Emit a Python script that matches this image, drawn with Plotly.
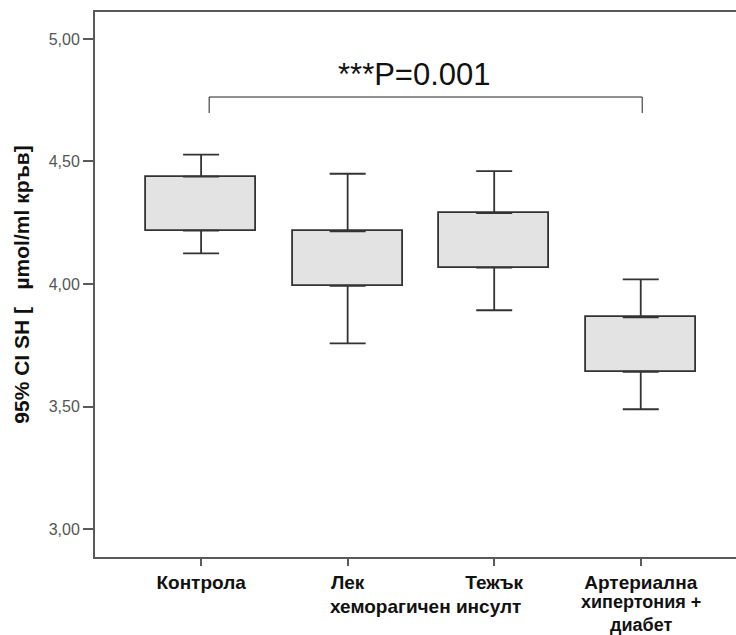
import plotly.graph_objects as go

# Groups and their summary values (µmol/ml кръв)
categories = ["Контрола", "Лек", "Тежък", "Артериална"]
box_low = [4.218, 3.992, 4.067, 3.642]
box_high = [4.438, 4.215, 4.289, 3.864]
ci_low = [4.125, 3.758, 3.893, 3.489]
ci_high = [4.528, 4.450, 4.461, 4.019]

y_ticks = [3.0, 3.5, 4.0, 4.5, 5.0]
y_tick_text = ["3,00", "3,50", "4,00", "4,50", "5,00"]

p_label = "***P=0.001"
bracket_from, bracket_to = 0.055, 3.01
bracket_top, bracket_bottom = 4.763, 4.698

FONT = "Liberation Sans, Arial"
line_col = "#333333"
fill_col = "#e3e3e3"
xs = list(range(len(categories)))

fig = go.Figure()

# boxes
fig.add_trace(go.Bar(
    x=xs,
    y=[h - l for h, l in zip(box_high, box_low)],
    base=box_low,
    width=0.75,
    marker=dict(color=fill_col, line=dict(color=line_col, width=1.8)),
    showlegend=False, hoverinfo="skip",
))

# upper whiskers
fig.add_trace(go.Scatter(
    x=xs, y=box_high, mode="markers",
    marker=dict(size=1, opacity=0),
    error_y=dict(type="data", symmetric=False,
                 array=[h - b for h, b in zip(ci_high, box_high)],
                 arrayminus=[0] * len(xs),
                 width=18, thickness=1.8, color=line_col),
    showlegend=False, hoverinfo="skip",
))

# lower whiskers
fig.add_trace(go.Scatter(
    x=xs, y=box_low, mode="markers",
    marker=dict(size=1, opacity=0),
    error_y=dict(type="data", symmetric=False,
                 array=[0] * len(xs),
                 arrayminus=[b - l for b, l in zip(box_low, ci_low)],
                 width=18, thickness=1.8, color=line_col),
    showlegend=False, hoverinfo="skip",
))

# significance bracket
fig.add_shape(type="path",
              path=f"M {bracket_from},{bracket_bottom} L {bracket_from},{bracket_top} "
                   f"L {bracket_to},{bracket_top} L {bracket_to},{bracket_bottom}",
              xref="x", yref="y", line=dict(color="#222222", width=1))
fig.add_annotation(x=1.454, y=4.853, xref="x", yref="y", text=p_label,
                   showarrow=False,
                   font=dict(family=FONT, size=31, color="#111111"))

# continuation lines of the category labels
extra_lines = [
    (1.53, -0.0917, "хеморагичен инсулт", 19),
    (3.0, -0.1028, "хипертония +<br>диабет", 18),
]
for xv, yv, txt, sz in extra_lines:
    fig.add_annotation(x=xv, y=yv, xref="x", yref="paper",
                       text=f"<b>{txt}</b>", showarrow=False, yanchor="middle",
                       borderpad=0,
                       font=dict(family=FONT, size=sz, color="#111111"))

fig.update_layout(
    width=736, height=635,
    margin=dict(l=95, r=0, t=12, b=78),
    paper_bgcolor="white", plot_bgcolor="white",
    bargap=0,
    xaxis=dict(
        range=[-0.724, 3.65],
        tickmode="array", tickvals=xs,
        ticktext=[f"<b>{c}</b>" for c in categories],
        showline=True, mirror=True, linecolor="#5a5a5a", linewidth=2,
        ticks="outside", ticklen=7, tickcolor="#5a5a5a", tickwidth=1.5,
        showgrid=False, zeroline=False,
        tickfont=dict(family=FONT, size=19, color="#111111"),
    ),
    yaxis=dict(
        range=[2.886, 5.110],
        tickmode="array", tickvals=y_ticks, ticktext=y_tick_text,
        showline=True, linecolor="#5a5a5a", linewidth=2,
        ticks="outside", ticklen=10, tickcolor="#5a5a5a", tickwidth=1.5,
        showgrid=False, zeroline=False,
        tickfont=dict(family=FONT, size=16, color="#555555"),
        title=dict(text="<b>95% CI SH [   µmol/ml кръв]</b>", standoff=13,
                   font=dict(family=FONT, size=21, color="#111111")),
    ),
)

fig.write_html("out.html")
